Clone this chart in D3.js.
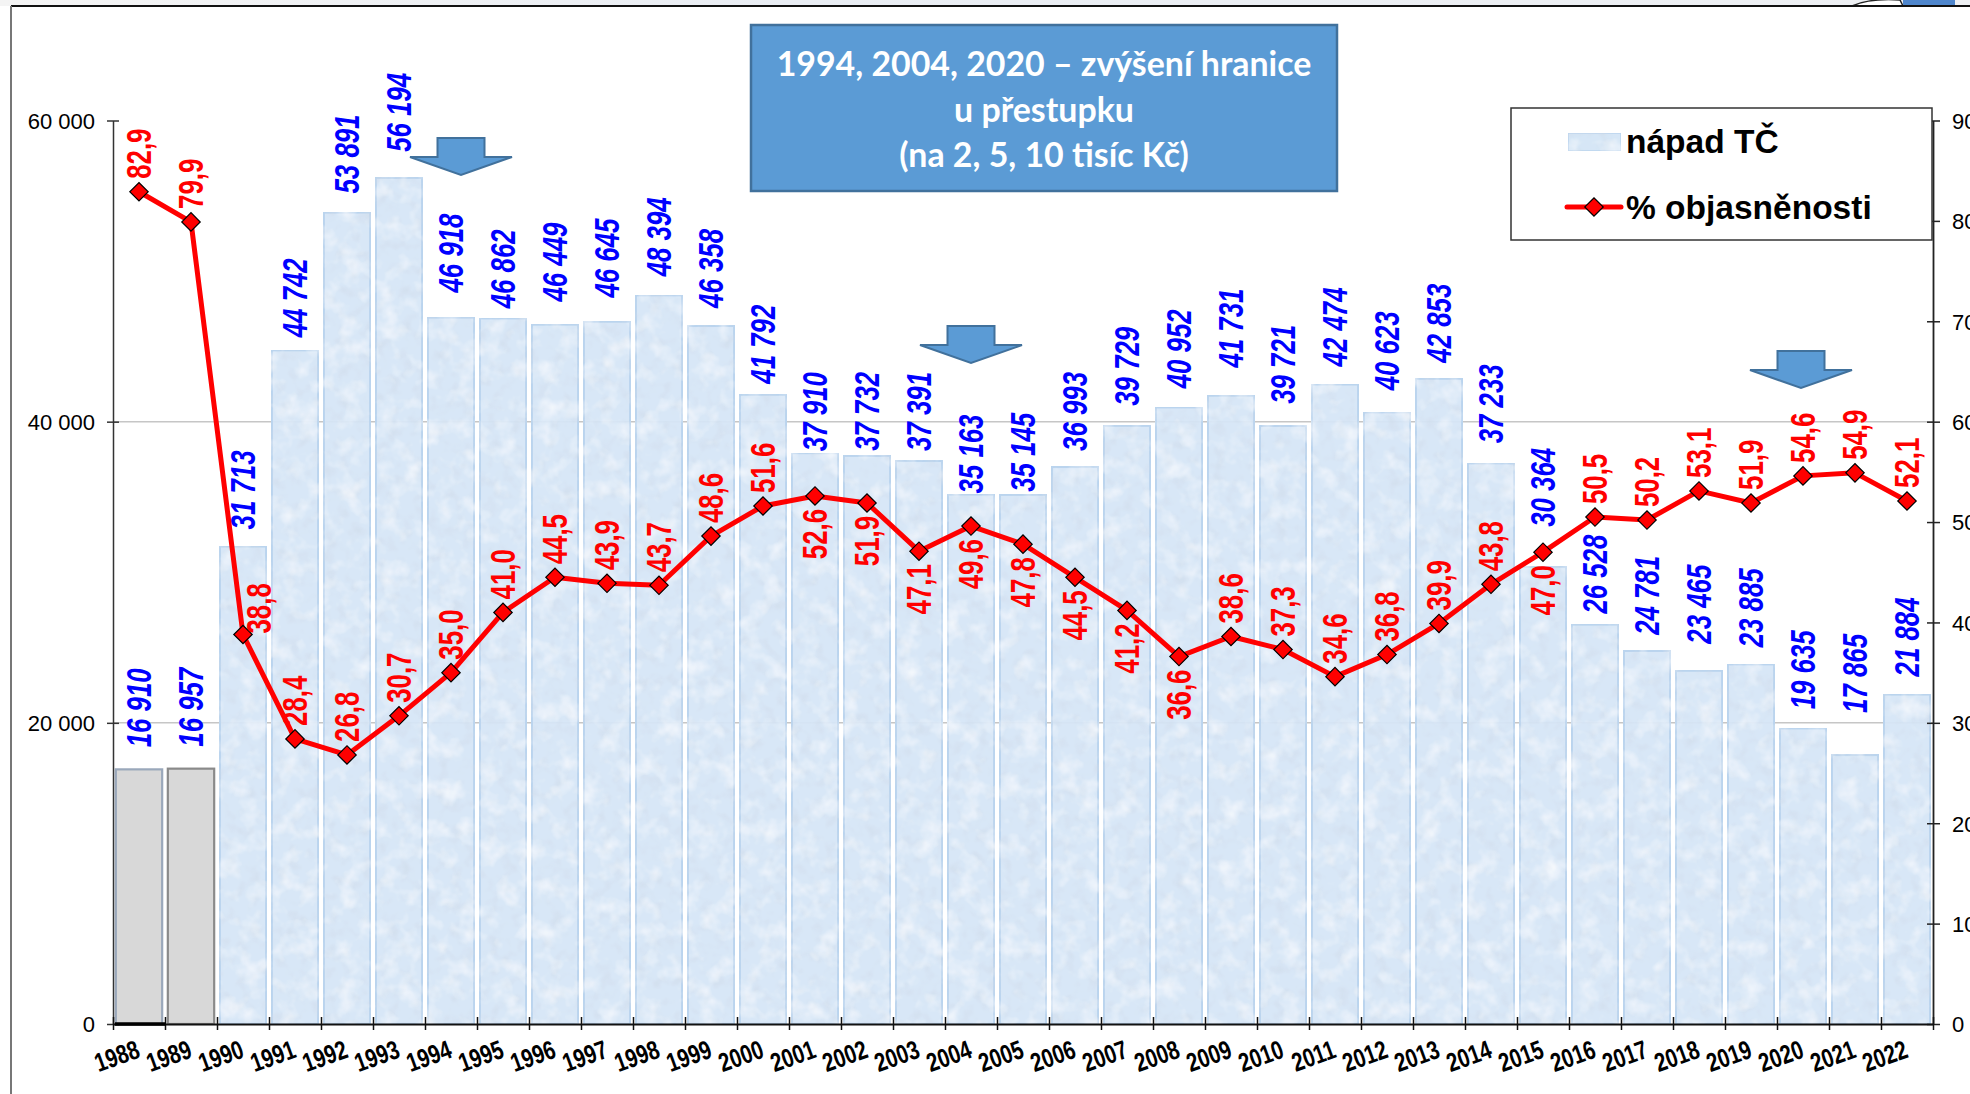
<!DOCTYPE html>
<html><head><meta charset="utf-8">
<script src="https://cdn.jsdelivr.net/npm/d3@7"></script>
<style>html,body{margin:0;padding:0;background:#fff;}svg{display:block;}</style>
</head><body><svg id="c" width="1970" height="1094"></svg>
<script>
// ---------- data ----------
const years = [1988,1989,1990,1991,1992,1993,1994,1995,1996,1997,1998,1999,2000,2001,2002,2003,2004,2005,2006,2007,2008,2009,2010,2011,2012,2013,2014,2015,2016,2017,2018,2019,2020,2021,2022];
const crimes = [16910,16957,31713,44742,53891,56194,46918,46862,46449,46645,48394,46358,41792,37910,37732,37391,35163,35145,36993,39729,40952,41731,39721,42474,40623,42853,37233,30364,26528,24781,23465,23885,19635,17865,21884];
const clearance = [82.9,79.9,38.8,28.4,26.8,30.7,35.0,41.0,44.5,43.9,43.7,48.6,51.6,52.6,51.9,47.1,49.6,47.8,44.5,41.2,36.6,38.6,37.3,34.6,36.8,39.9,43.8,47.0,50.5,50.2,53.1,51.9,54.6,54.9,52.1];
const grayYears = [1988,1989];
const leftTicks = [0,20000,40000,60000];
const rightTicks = [0,10,20,30,40,50,60,70,80,90];
const gridTicks = [20000,40000];
// label placement for % series: a = above, b = below, r = right
const pctLabelPos = "aara aaaaaaaaa bbbbbbbb aaaaaa baaaaaaa".replace(/ /g,"").split("");
// extra lift (px) of the bar value labels, as placed in the original
const barLabelLift = [22,22,17,13,19,26,25,10,23,24,19,18,11,2,5,10,1,3,16,20,19,28,22,18,22,16,20,40,11,16,27,17,19,42,18];
const arrowYears = [1994,2004,2020];
const arrowTopVals = [58840,46350,44690];
const arrowShift = [10,0,-2];
const titleLines = ["1994, 2004, 2020 – zvýšení hranice","u přestupku","(na 2, 5, 10 tisíc Kč)"];
const legendNames = ["nápad TČ","% objasněnosti"];

// ---------- setup ----------
const svg = d3.select("#c");
const loc = d3.formatLocale({decimal:",", thousands:" ", grouping:[3], currency:["","Kč"]});
const fmtInt = loc.format(",d");
const fmtPct = loc.format(".1f");

const X0 = 113, X1 = 1933, Y0 = 1024, Y1 = 120.5;
const x = d3.scaleBand().domain(years).range([X0, X1]).paddingInner(0.07).paddingOuter(0.035);
const xb = d3.scaleLinear().domain([0, years.length]).range([X0, X1]);
const y = d3.scaleLinear().domain([0, 60000]).range([Y0, Y1]);
const y2 = d3.scaleLinear().domain([0, 90]).range([Y0, Y1]);
const cx = d => x(d) + x.bandwidth()/2;

// narrow font detection
let narrowFam = "'Liberation Sans Narrow','Arial Narrow', 'Liberation Sans', Arial, sans-serif";
let squeeze = 1;
{
  const t = svg.append("text").style("font-family", "'Liberation Sans Narrow', monospace").style("font-weight","bold").style("font-size","100px").text("00000000");
  const w = t.node().getComputedTextLength();
  t.remove();
  if (Math.abs(w - 364.8) > 25) { squeeze = 0.82; narrowFam = "'Liberation Sans', Arial, sans-serif"; }
}

// ---------- defs ----------
const defs = svg.append("defs");
const f = defs.append("filter").attr("id","tex").attr("x","0").attr("y","0").attr("width","1").attr("height","1");
f.append("feTurbulence").attr("type","fractalNoise").attr("baseFrequency","0.05").attr("numOctaves",3).attr("seed",7).attr("result","n");
f.append("feColorMatrix").attr("in","n").attr("type","matrix")
  .attr("values","0 0 0 0 1  0 0 0 0 1  0 0 0 0 1  1.5 0 0 0 -0.72").attr("result","w");
f.append("feComposite").attr("in","w").attr("in2","SourceGraphic").attr("operator","in").attr("result","wc");
f.append("feTurbulence").attr("type","fractalNoise").attr("baseFrequency","0.08").attr("numOctaves",2).attr("seed",21).attr("result","n2");
f.append("feColorMatrix").attr("in","n2").attr("type","matrix")
  .attr("values","0 0 0 0 0.62  0 0 0 0 0.70  0 0 0 0 0.80  1.3 0 0 0 -0.62").attr("result","g");
f.append("feComposite").attr("in","g").attr("in2","SourceGraphic").attr("operator","in").attr("result","gc");
const fm = f.append("feMerge"); fm.append("feMergeNode").attr("in","SourceGraphic"); fm.append("feMergeNode").attr("in","gc"); fm.append("feMergeNode").attr("in","wc");
const tg = defs.append("linearGradient").attr("id","topg");
tg.append("stop").attr("offset","0").attr("stop-color","#f4f4f4");
tg.append("stop").attr("offset","0.4").attr("stop-color","#e9edf3");
tg.append("stop").attr("offset","1").attr("stop-color","#eef0f3");

// ---------- frame ----------
svg.append("rect").attr("x",0).attr("y",0).attr("width",1970).attr("height",6).attr("fill","url(#topg)");
svg.append("path").attr("d","M1852,6 Q1870,-2 1900,0 L1903,6").attr("fill","#fff").attr("stroke","#222").attr("stroke-width",1.5);
svg.append("rect").attr("x",1903).attr("y",0).attr("width",52).attr("height",6).attr("fill","#4f86cc");
svg.append("line").attr("x1",11).attr("x2",1970).attr("y1",6).attr("y2",6).attr("stroke","#111").attr("stroke-width",2);
svg.append("line").attr("x1",11).attr("x2",11).attr("y1",6).attr("y2",1094).attr("stroke","#777").attr("stroke-width",2);

// ---------- grid ----------
svg.append("g").selectAll("line").data(gridTicks).join("line")
  .attr("x1",X0).attr("x2",X1).attr("y1",d=>y(d)).attr("y2",d=>y(d))
  .attr("stroke","#c6c6c6").attr("stroke-width",1.5);

// ---------- bars ----------
const data = years.map((yr,i)=>({yr, v:crimes[i], p:clearance[i], i}));
svg.append("g").selectAll("rect").data(data).join("rect")
  .attr("x", d=>x(d.yr)+1).attr("width", x.bandwidth()-2)
  .attr("y", d=>y(d.v)).attr("height", d=>y(0)-y(d.v))
  .attr("fill", d=>grayYears.includes(d.yr) ? "#d8d8d8" : "#d6e6f6")
  .attr("fill-opacity", d=>grayYears.includes(d.yr) ? 1 : 0.94)
  .attr("stroke", d=>grayYears.includes(d.yr) ? (d.yr===1988 ? "#9aa8bb" : "#8a8a8a") : "#bad4ee")
  .attr("stroke-width", 2.2)
  .attr("filter", d=>grayYears.includes(d.yr) ? null : "url(#tex)");

// ---------- axes ----------
const axL = svg.append("g").attr("transform",`translate(${X0},0)`)
  .call(d3.axisLeft(y).tickValues(leftTicks).tickFormat(fmtInt).tickSizeInner(6).tickSizeOuter(0).tickPadding(12));
axL.select(".domain").attr("stroke","#333").attr("stroke-width",1.5);
axL.selectAll(".tick line").attr("x1",6).attr("x2",-6).attr("stroke","#333").attr("stroke-width",1.5);
axL.selectAll(".tick text").style("font-family","'Liberation Sans',Arial,sans-serif").style("font-size","22px").attr("fill","#000").attr("dy","0.36em");

const axR = svg.append("g").attr("transform",`translate(${X1},0)`)
  .call(d3.axisRight(y2).tickValues(rightTicks).tickFormat(d=>d).tickSizeInner(7).tickSizeOuter(0).tickPadding(12));
axR.select(".domain").attr("stroke","#222").attr("stroke-width",1.8);
axR.selectAll(".tick line").attr("x1",-6).attr("x2",7).attr("stroke","#222").attr("stroke-width",1.5);
axR.selectAll(".tick text").style("font-family","'Liberation Sans',Arial,sans-serif").style("font-size","22px").attr("fill","#000").attr("dy","0.36em");

const axB = svg.append("g").attr("transform",`translate(0,${Y0})`)
  .call(d3.axisBottom(xb).tickValues(d3.range(0, years.length+1)).tickFormat("").tickSizeInner(6).tickSizeOuter(0));
axB.select(".domain").attr("stroke","#111").attr("stroke-width",1.8);
axB.selectAll(".tick line").attr("y1",-7).attr("y2",6).attr("stroke","#111").attr("stroke-width",1.5);
svg.append("line").attr("x1",X0+2).attr("x2",x(1989)-1).attr("y1",Y0).attr("y2",Y0).attr("stroke","#000").attr("stroke-width",3.5);

svg.append("g").selectAll("text").data(years).join("text")
  .attr("transform", d=>`translate(${cx(d)-4},${Y0+15}) rotate(-20) scale(${squeeze},1.05)`)
  .attr("text-anchor","end").attr("dy","0.72em")
  .style("font-family", narrowFam).style("font-weight","bold").style("font-size","25px")
  .text(d=>d);

// ---------- bar value labels ----------
const LF = 31.5;
svg.append("g").selectAll("text").data(data).join("text")
  .attr("transform", d=>`translate(${cx(d.yr)+LF*0.39},${y(d.v)-barLabelLift[d.i]}) rotate(-90) scale(${squeeze},1.1)`)
  .attr("text-anchor","start")
  .style("font-family", narrowFam).style("font-weight","bold").style("font-style","italic").style("font-size",LF+"px")
  .attr("fill","#0000ff").text(d=>fmtInt(d.v));

// ---------- line ----------
const line = d3.line().x(d=>cx(d.yr)).y(d=>y2(d.p));
svg.append("path").datum(data).attr("d", line).attr("fill","none").attr("stroke","#ff0000").attr("stroke-width",5).attr("stroke-linejoin","round");
const diamond = d3.symbol().type(d3.symbolSquare).size(13*13);
svg.append("g").selectAll("path").data(data).join("path")
  .attr("transform", d=>`translate(${cx(d.yr)},${y2(d.p)}) rotate(45)`)
  .attr("d", diamond()).attr("fill","#ff0000").attr("stroke","#000").attr("stroke-width",1.2);

svg.append("g").selectAll("text").data(data).join("text")
  .attr("transform", d=>{
    const pos = pctLabelPos[d.i];
    let bx = cx(d.yr)+LF*0.39, by;
    if (pos==="a") by = y2(d.p)-13;
    else if (pos==="b") by = y2(d.p)+13;
    else { bx = cx(d.yr)+16+LF*0.39; by = y2(d.p)-1; }
    return `translate(${bx},${by}) rotate(-90) scale(${squeeze},1.1)`;
  })
  .attr("text-anchor", d=>pctLabelPos[d.i]==="b" ? "end" : "start")
  .style("font-family", narrowFam).style("font-weight","bold").style("font-size",LF+"px")
  .attr("fill","#ff0000").text(d=>fmtPct(d.p));

// ---------- arrows ----------
const arrowShape = (c, t) => {
  const sw=23.5, hw=51, sh=19, h=37;
  return `M${c-sw},${t} L${c+sw},${t} L${c+sw},${t+sh} L${c+hw},${t+sh} L${c},${t+h} L${c-hw},${t+sh} L${c-sw},${t+sh} Z`;
};
svg.append("g").selectAll("path").data(arrowYears).join("path")
  .attr("d",(d,i)=>arrowShape(cx(d)+arrowShift[i], y(arrowTopVals[i])))
  .attr("fill","#5b9bd5").attr("stroke","#41719c").attr("stroke-width",2);

// ---------- title box ----------
const tb = svg.append("g");
tb.append("rect").attr("x",751).attr("y",25).attr("width",586).attr("height",166).attr("fill","#5b9bd5").attr("stroke","#41719c").attr("stroke-width",2.5);
const tt = tb.selectAll("text").data(titleLines).join("text")
  .attr("x",1044).attr("y",(d,i)=>76+i*45.5).attr("text-anchor","middle")
  .style("font-family","Lato, 'Open Sans', sans-serif").style("font-weight","bold").style("font-size","34px")
  .attr("fill","#fff").text(d=>d);
{
  const w = tt.nodes()[0].getComputedTextLength();
  const fs = 34*535/w;
  tt.style("font-size", fs+"px");
}

// ---------- legend ----------
const lg = svg.append("g");
lg.append("rect").attr("x",1511).attr("y",108).attr("width",421).attr("height",132).attr("fill","#fff").attr("stroke","#333").attr("stroke-width",1.5);
lg.append("rect").attr("x",1568).attr("y",133).attr("width",53).attr("height",18).attr("fill","#d6e6f6").attr("stroke","#bad4ee").attr("stroke-width",1.5).attr("filter","url(#tex)");
lg.append("line").attr("x1",1567).attr("x2",1621).attr("y1",207).attr("y2",207).attr("stroke","#ff0000").attr("stroke-width",5).attr("stroke-linecap","round");
lg.append("path").attr("transform","translate(1594,207) rotate(45)").attr("d",diamond()).attr("fill","#ff0000").attr("stroke","#000").attr("stroke-width",1.2);
lg.selectAll("text").data(legendNames).join("text")
  .attr("x",1626).attr("y",(d,i)=>i===0?153:219)
  .style("font-family","'Liberation Sans',Arial,sans-serif").style("font-weight","bold").style("font-size","33.5px")
  .attr("fill","#000").text(d=>d);
</script></body></html>
